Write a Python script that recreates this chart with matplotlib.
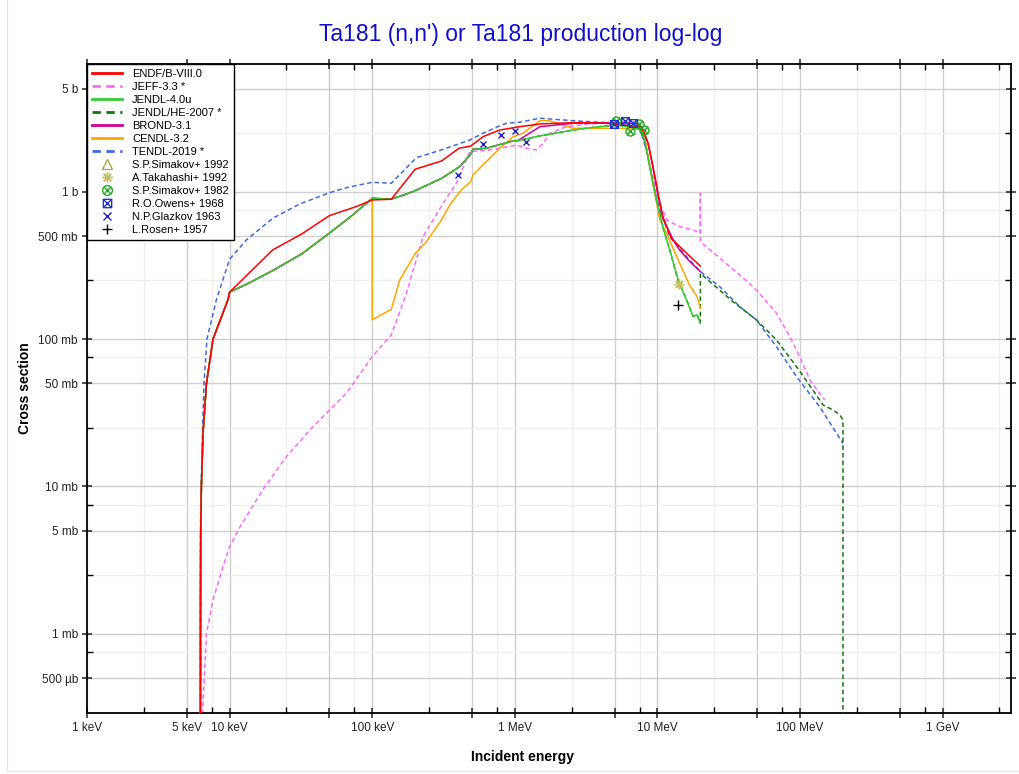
"""Ta181 (n,n') or Ta181 production, log-log cross section plot."""

import matplotlib
matplotlib.use("Agg")
import matplotlib.pyplot as plt
from matplotlib.lines import Line2D
from matplotlib.patches import Rectangle
from matplotlib.path import Path
from matplotlib.ticker import FixedLocator, FixedFormatter, NullFormatter

plt.rcParams["font.family"] = ["Liberation Sans", "DejaVu Sans"]

# ---- evaluated data: energy in MeV, cross section in barns ----
endf_e = [6.24e-3, 6.25e-3, 6.27e-3, 6.34e-3, 6.51e-3, 6.88e-3, 7.65e-3, 9.74e-3, 0.010,
          0.020, 0.032, 0.050, 0.077, 0.100, 0.136, 0.200, 0.306, 0.406, 0.491, 0.598,
          0.784, 1.08, 1.50, 2.56, 4.39, 7.51, 8.02, 8.60, 9.31, 10.1, 10.9, 12.5, 16.0, 20.0]
endf_s = [1e-4, 1.5e-3, 4.8e-3, 0.010, 0.023, 0.050, 0.100, 0.185, 0.208,
          0.402, 0.516, 0.687, 0.791, 0.878, 0.888, 1.42, 1.615, 1.97, 2.04, 2.36,
          2.62, 2.76, 2.88, 2.94, 2.91, 2.76, 2.55, 2.13, 1.48, 0.975, 0.677, 0.483, 0.382, 0.313]

jeff_e = [6.40e-3, 6.47e-3, 6.88e-3, 7.65e-3, 8.99e-3, 0.010, 0.0118, 0.0171, 0.025, 0.0385,
          0.0659, 0.100, 0.136, 0.174, 0.227, 0.314, 0.389, 0.483, 0.667, 1.03, 1.21, 1.42,
          1.58, 1.76, 2.30, 3.35, 5.74, 7.51, 8.37, 9.31, 10.4, 11.6, 14.3, 17.8, 20.0, 20.0,
          20.0, 27.3, 37.8, 49.4, 68.3, 84.7, 99.5, 117.0, 137.0, 149.0]
jeff_s = [1e-4, 3e-4, 1.0e-3, 1.7e-3, 2.86e-3, 3.9e-3, 5.3e-3, 9.5e-3, 0.0159, 0.0255,
          0.0429, 0.076, 0.1066, 0.205, 0.495, 0.834, 1.14, 1.87, 1.92, 2.07, 1.97, 1.92,
          2.13, 2.49, 2.76, 2.88, 2.98, 2.84, 1.92, 1.26, 0.834, 0.643, 0.579, 0.55, 0.522, 0.975,
          0.457, 0.355, 0.272, 0.215, 0.150, 0.104, 0.076, 0.0528, 0.0429, 0.0386]

jendl_e = [6.24e-3, 6.25e-3, 6.27e-3, 6.34e-3, 6.51e-3, 6.88e-3, 7.65e-3, 9.74e-3, 0.010,
           0.0138, 0.020, 0.032, 0.050, 0.073, 0.100, 0.136, 0.193, 0.306, 0.411, 0.491,
           0.509, 0.632, 0.971, 1.05, 1.50, 1.91, 2.56, 3.53, 5.16, 7.51, 8.15, 8.83, 9.84,
           10.9, 12.2, 13.95, 16.0, 17.8, 18.95, 20.0]
jendl_s = [1e-4, 1.5e-3, 4.8e-3, 0.010, 0.023, 0.050, 0.100, 0.185, 0.208,
           0.241, 0.291, 0.378, 0.522, 0.695, 0.902, 0.888, 1.00, 1.23, 1.48, 1.80,
           1.94, 1.97, 2.21, 2.22, 2.39, 2.49, 2.62, 2.73, 2.84, 2.69, 2.24, 1.48, 0.878,
           0.579, 0.402, 0.252, 0.184, 0.142, 0.146, 0.128]

jendlhe_hi_e = [20.0, 33.9, 49.4, 68.3, 94.4, 123.0, 145.0, 170.0, 190.0, 200.0, 200.0]
jendlhe_hi_s = [0.279, 0.179, 0.135, 0.0986, 0.065, 0.0451, 0.0357, 0.033, 0.0306, 0.0283, 1e-5]

brond_hi_e = [1.50, 2.56, 4.39, 7.12, 7.92, 8.60, 9.31, 10.1, 10.9, 12.9, 14.3, 16.9, 20.0]
brond_hi_s = [2.76, 2.91, 2.94, 2.91, 2.62, 2.13, 1.45, 0.95, 0.66, 0.47, 0.402, 0.335, 0.287]

cendl_hi_e = [0.100, 0.136, 0.156, 0.201, 0.240, 0.306, 0.350, 0.422, 0.491, 0.509, 0.598,
              0.784, 0.971, 1.14, 1.50, 1.76, 2.56, 4.39, 6.06, 7.51, 8.15, 8.83, 9.58, 10.4,
              11.6, 14.3, 16.9, 18.9, 20.0]
cendl_hi_s = [0.135, 0.159, 0.252, 0.382, 0.458, 0.643, 0.812, 1.03, 1.17, 1.30, 1.52,
              1.97, 2.36, 2.49, 3.03, 3.03, 2.69, 2.69, 2.69, 2.65, 2.36, 1.48, 0.975, 0.643,
              0.52, 0.328, 0.229, 0.196, 0.162]

tendl_e = [6.24e-3, 6.26e-3, 6.45e-3, 6.61e-3, 6.94e-3, 8.08e-3, 0.010, 0.0131, 0.0201, 0.031,
           0.0504, 0.0659, 0.100, 0.136, 0.204, 0.306, 0.483, 0.598, 0.784, 0.873, 1.08, 1.50,
           2.56, 4.39, 7.51, 8.37, 9.31, 10.4, 12.2, 16.0, 20.0, 27.3, 37.8, 49.4, 68.3, 94.4,
           137.0, 200.0]
tendl_s = [1e-4, 6.6e-3, 0.0231, 0.050, 0.100, 0.185, 0.348, 0.47, 0.66, 0.825,
           0.985, 1.065, 1.158, 1.14, 1.70, 1.92, 2.24, 2.49, 2.80, 2.91, 2.96, 3.15,
           3.03, 2.94, 2.69, 1.92, 1.14, 0.751, 0.495, 0.362, 0.287, 0.227, 0.166, 0.135, 0.0888,
           0.0556, 0.0348, 0.0196]

# JENDL/HE, BROND and CENDL follow JENDL-4.0u at the low end
jendlhe_e = jendl_e + jendlhe_hi_e
jendlhe_s = jendl_s + jendlhe_hi_s
brond_e = jendl_e[:24] + brond_hi_e
brond_s = jendl_s[:24] + brond_hi_s
cendl_e = jendl_e[:15] + cendl_hi_e
cendl_s = jendl_s[:15] + cendl_hi_s

# ---- experimental points (Simakov 1992 not visible in the plotted range) ----
simakov92_e, simakov92_s = [], []
takahashi_e, takahashi_s = [14.1], [0.235]
simakov82_e = [5.16, 6.47, 7.43, 8.02]
simakov82_s = [3.03, 2.59, 2.88, 2.62]
owens_e = [4.94, 5.94, 6.74]
owens_s = [2.89, 3.01, 2.91]
glazkov_e = [0.4, 0.6, 0.8, 1.0, 1.2]
glazkov_s = [1.29, 2.10, 2.44, 2.59, 2.16]
rosen_e, rosen_s = [14.0], [0.170]

# ---- axis ticks ----
x_ticks = [1e-3, 5e-3, 1e-2, 5e-2, 0.1, 0.5, 1, 5, 10, 50, 100, 500, 1000]
x_labels = ["1 keV", "5 keV", "10 keV", "", "100 keV", "", "1 MeV", "", "10 MeV", "",
            "100 MeV", "", "1 GeV"]
y_ticks = [5e-4, 1e-3, 5e-3, 1e-2, 5e-2, 0.1, 0.5, 1, 5]
y_labels = ["500 µb", "1 mb", "5 mb", "10 mb", "50 mb", "100 mb", "500 mb", "1 b", "5 b"]

# marker shapes
_circle = Path.unit_circle()
_diag = Path([(-0.7, -0.7), (0.7, 0.7), (-0.7, 0.7), (0.7, -0.7)],
             [Path.MOVETO, Path.LINETO, Path.MOVETO, Path.LINETO])
OTIMES = Path.make_compound_path(_circle, _diag)
_box = Path([(-1, -1), (1, -1), (1, 1), (-1, 1), (-1, -1)],
            [Path.MOVETO, Path.LINETO, Path.LINETO, Path.LINETO, Path.CLOSEPOLY])
_bdiag = Path([(-1, -1), (1, 1), (-1, 1), (1, -1)],
              [Path.MOVETO, Path.LINETO, Path.MOVETO, Path.LINETO])
BOXTIMES = Path.make_compound_path(_box, _bdiag)

fig = plt.figure(figsize=(10.2, 7.74), dpi=100)
fig.add_artist(Rectangle((7 / 1020, 3 / 774), 1.2, 1.2, transform=fig.transFigure,
                         fill=False, edgecolor="#e6e6e6", linewidth=1))
ax = fig.add_axes([87 / 1020, 61 / 774, 923.7 / 1020, 649 / 774])

DASH = (3, 2)
evals = [
    ("ENDF/B-VIII.0", endf_e, endf_s, "#ff0000", "-", 6),
    ("JEFF-3.3 *", jeff_e, jeff_s, "#ff66ff", "--", 2),
    ("JENDL-4.0u", jendl_e, jendl_s, "#33cc33", "-", 5),
    ("JENDL/HE-2007 *", jendlhe_e, jendlhe_s, "#117711", "--", 3.5),
    ("BROND-3.1", brond_e, brond_s, "#cc0099", "-", 4.5),
    ("CENDL-3.2", cendl_e, cendl_s, "#ffa500", "-", 4),
    ("TENDL-2019 *", tendl_e, tendl_s, "#4169e1", "--", 3),
]
handles = []
for label, e, s, color, ls, z in evals:
    kw = dict(dashes=DASH) if ls == "--" else {}
    ax.plot(e, s, color=color, lw=1.1, zorder=z, **kw)
    handles.append(Line2D([], [], color=color, lw=2.0, label=label, **kw))

exps = [
    ("S.P.Simakov+ 1992", simakov92_e, simakov92_s, "^", "#b0a850", 7),
    ("A.Takahashi+ 1992", takahashi_e, takahashi_s, (8, 2, 0), "#c8c060", 7),
    ("S.P.Simakov+ 1982", simakov82_e, simakov82_s, OTIMES, "#22aa22", 6.5),
    ("R.O.Owens+ 1968", owens_e, owens_s, BOXTIMES, "#2233cc", 5.5),
    ("N.P.Glazkov 1963", glazkov_e, glazkov_s, "x", "#2222bb", 5),
    ("L.Rosen+ 1957", rosen_e, rosen_s, "+", "#000000", 7),
]
for label, e, s, marker, color, ms in exps:
    ax.plot(e, s, ls="none", marker=marker, ms=ms, mfc="none", mec=color, mew=1.0, zorder=7)
    handles.append(Line2D([], [], ls="none", marker=marker, ms=ms + 0.5, mfc="none",
                          mec=color, mew=1.0, label=label))

ax.set_xscale("log")
ax.set_yscale("log")
ax.set_xlim(1e-3, 3e3)
ax.set_ylim(2.9e-4, 7.35)

minor_x = [m * 10.0 ** k for k in range(-3, 4) for m in (2.5, 7.5)]
minor_y = [m * 10.0 ** k for k in range(-4, 1) for m in (2.5, 7.5)]
ax.xaxis.set_major_locator(FixedLocator(x_ticks))
ax.xaxis.set_major_formatter(FixedFormatter(x_labels))
ax.xaxis.set_minor_locator(FixedLocator(minor_x))
ax.xaxis.set_minor_formatter(NullFormatter())
ax.yaxis.set_major_locator(FixedLocator(y_ticks))
ax.yaxis.set_major_formatter(FixedFormatter(y_labels))
ax.yaxis.set_minor_locator(FixedLocator(minor_y))
ax.yaxis.set_minor_formatter(NullFormatter())

ax.grid(which="major", color="#cfcfcf", lw=1.0)
ax.grid(which="minor", color="#efefef", lw=1.0)
ax.set_axisbelow(True)
ax.tick_params(which="major", direction="inout", length=7, width=1.1, labelsize=8.5,
               top=True, right=True, colors="#222222", pad=3)
ax.tick_params(which="minor", direction="in", length=4, width=1.0, top=True, right=True)
for sp in ax.spines.values():
    sp.set_linewidth(1.3)

leg = ax.legend(handles=handles, loc="upper left", bbox_to_anchor=(0, 1), borderaxespad=0,
                fontsize=8, labelspacing=0.27, handlelength=2.7, handletextpad=0.9,
                borderpad=0.45, fancybox=False, framealpha=1, edgecolor="black")
leg.get_frame().set_linewidth(1.0)
leg.set_zorder(10)

fig.text(521 / 1020, 1 - 35 / 774, "Ta181 (n,n') or Ta181 production log-log",
         ha="center", va="center", fontsize=16.5, color="#1010cc")
fig.text(523 / 1020, 1 - 757 / 774, "Incident energy", ha="center", va="center",
         fontsize=10, fontweight="bold")
fig.text(25 / 1020, 1 - 388 / 774, "Cross section", ha="center", va="center",
         rotation=90, fontsize=10, fontweight="bold")

fig.savefig("out.png", dpi=100)
